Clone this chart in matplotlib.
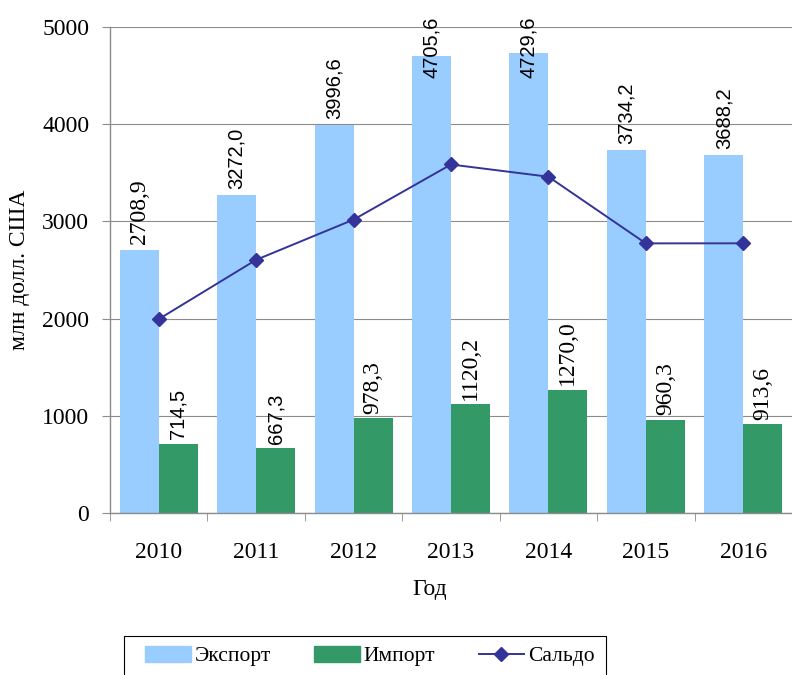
import matplotlib
matplotlib.use('Agg')
import matplotlib.pyplot as plt
from matplotlib.lines import Line2D
from matplotlib.patches import Patch, Rectangle
import numpy as np

years = ['2010', '2011', '2012', '2013', '2014', '2015', '2016']
export = [2708.9, 3272.0, 3996.6, 4705.6, 4729.6, 3734.2, 3688.2]
imports = [714.5, 667.3, 978.3, 1120.2, 1270.0, 960.3, 913.6]
saldo = [1994.4, 2604.7, 3018.3, 3585.4, 3459.6, 2773.9, 2774.6]

export_color = '#99CCFF'
import_color = '#339966'
saldo_color = '#333399'
axis_color = '#8c8c8c'
serif = ['Liberation Serif', 'DejaVu Serif']
sans = ['Liberation Sans', 'DejaVu Sans']
# the source mixes fonts in the data labels
export_label_serif = [True, False, False, False, False, False, False]
import_label_serif = [False, False, True, True, True, True, True]


def fmt(v):
    return f'{v:.1f}'.replace('.', ',')


def label(v, xpos, ypos, use_serif, off):
    family = serif if use_serif else sans
    size = 17 if use_serif else 14.5
    ax.annotate(fmt(v), (xpos, ypos), xytext=(0, off), textcoords='offset points',
                rotation=90, ha='center', va='bottom', fontsize=size, family=family,
                annotation_clip=False, zorder=4)


fig = plt.figure(figsize=(7.92, 6.75), dpi=100)
ax = fig.add_axes([110 / 792, 1 - 513 / 675, 682 / 792, 486 / 675])

x = np.arange(len(years))
w = 0.4
ax.bar(x - w / 2, export, w, color=export_color, zorder=2)
ax.bar(x + w / 2, imports, w, color=import_color, zorder=2)
ax.plot(x, saldo, color=saldo_color, lw=1.4, marker='D', markersize=7, zorder=3)

for i in range(len(years)):
    label(export[i], x[i] - w / 2, min(export[i], 4420), export_label_serif[i], 4)
    label(imports[i], x[i] + w / 2, imports[i], import_label_serif[i], 3)

ax.set_xlim(-0.5, len(years) - 0.5)
ax.set_ylim(0, 5000)
ax.set_yticks(np.arange(0, 5001, 1000))
ax.yaxis.grid(True, color=axis_color, lw=0.8, zorder=0)
ax.set_axisbelow(True)

ax.set_xticks(x)
ax.set_xticklabels(years, family=serif, fontsize=17)
ax.set_xticks(np.arange(-0.5, len(years), 1), minor=True)
ax.tick_params(axis='x', which='major', length=0, pad=21)
ax.tick_params(axis='x', which='minor', length=6, color=axis_color, direction='out')
ax.tick_params(axis='y', length=6, color=axis_color, pad=9)
for lab in ax.get_yticklabels():
    lab.set_family(serif)
    lab.set_fontsize(17)

for s in ['top', 'right']:
    ax.spines[s].set_visible(False)
for s in ['left', 'bottom']:
    ax.spines[s].set_color(axis_color)
    ax.spines[s].set_linewidth(1.0)

fig.text(20 / 792, 1 - 270 / 675, 'млн долл. США', rotation=90, ha='center', va='center',
         family=serif, fontsize=17)
fig.text(430 / 792, 1 - 590 / 675, 'Год', ha='center', va='center', family=serif, fontsize=17)

# legend box, its bottom edge runs off the picture like in the original
fig.add_artist(Rectangle((124 / 792, 1 - 678 / 675), 482 / 792, 42 / 675,
                         transform=fig.transFigure, facecolor='none', edgecolor='black', lw=0.8))
handles = [Patch(color=export_color), Patch(color=import_color),
           Line2D([], [], color=saldo_color, lw=1.4, marker='D', markersize=7)]
fig.legend(handles, ['Экспорт', 'Импорт', 'Сальдо'], loc='center',
           bbox_to_anchor=(370 / 792, 1 - 656 / 675), ncol=3, frameon=False,
           prop={'family': serif, 'size': 15.5},
           handlelength=2.1, handleheight=0.75, handletextpad=0.2,
           columnspacing=2.0, borderpad=0, borderaxespad=0)

fig.savefig('out.png', dpi=100)
